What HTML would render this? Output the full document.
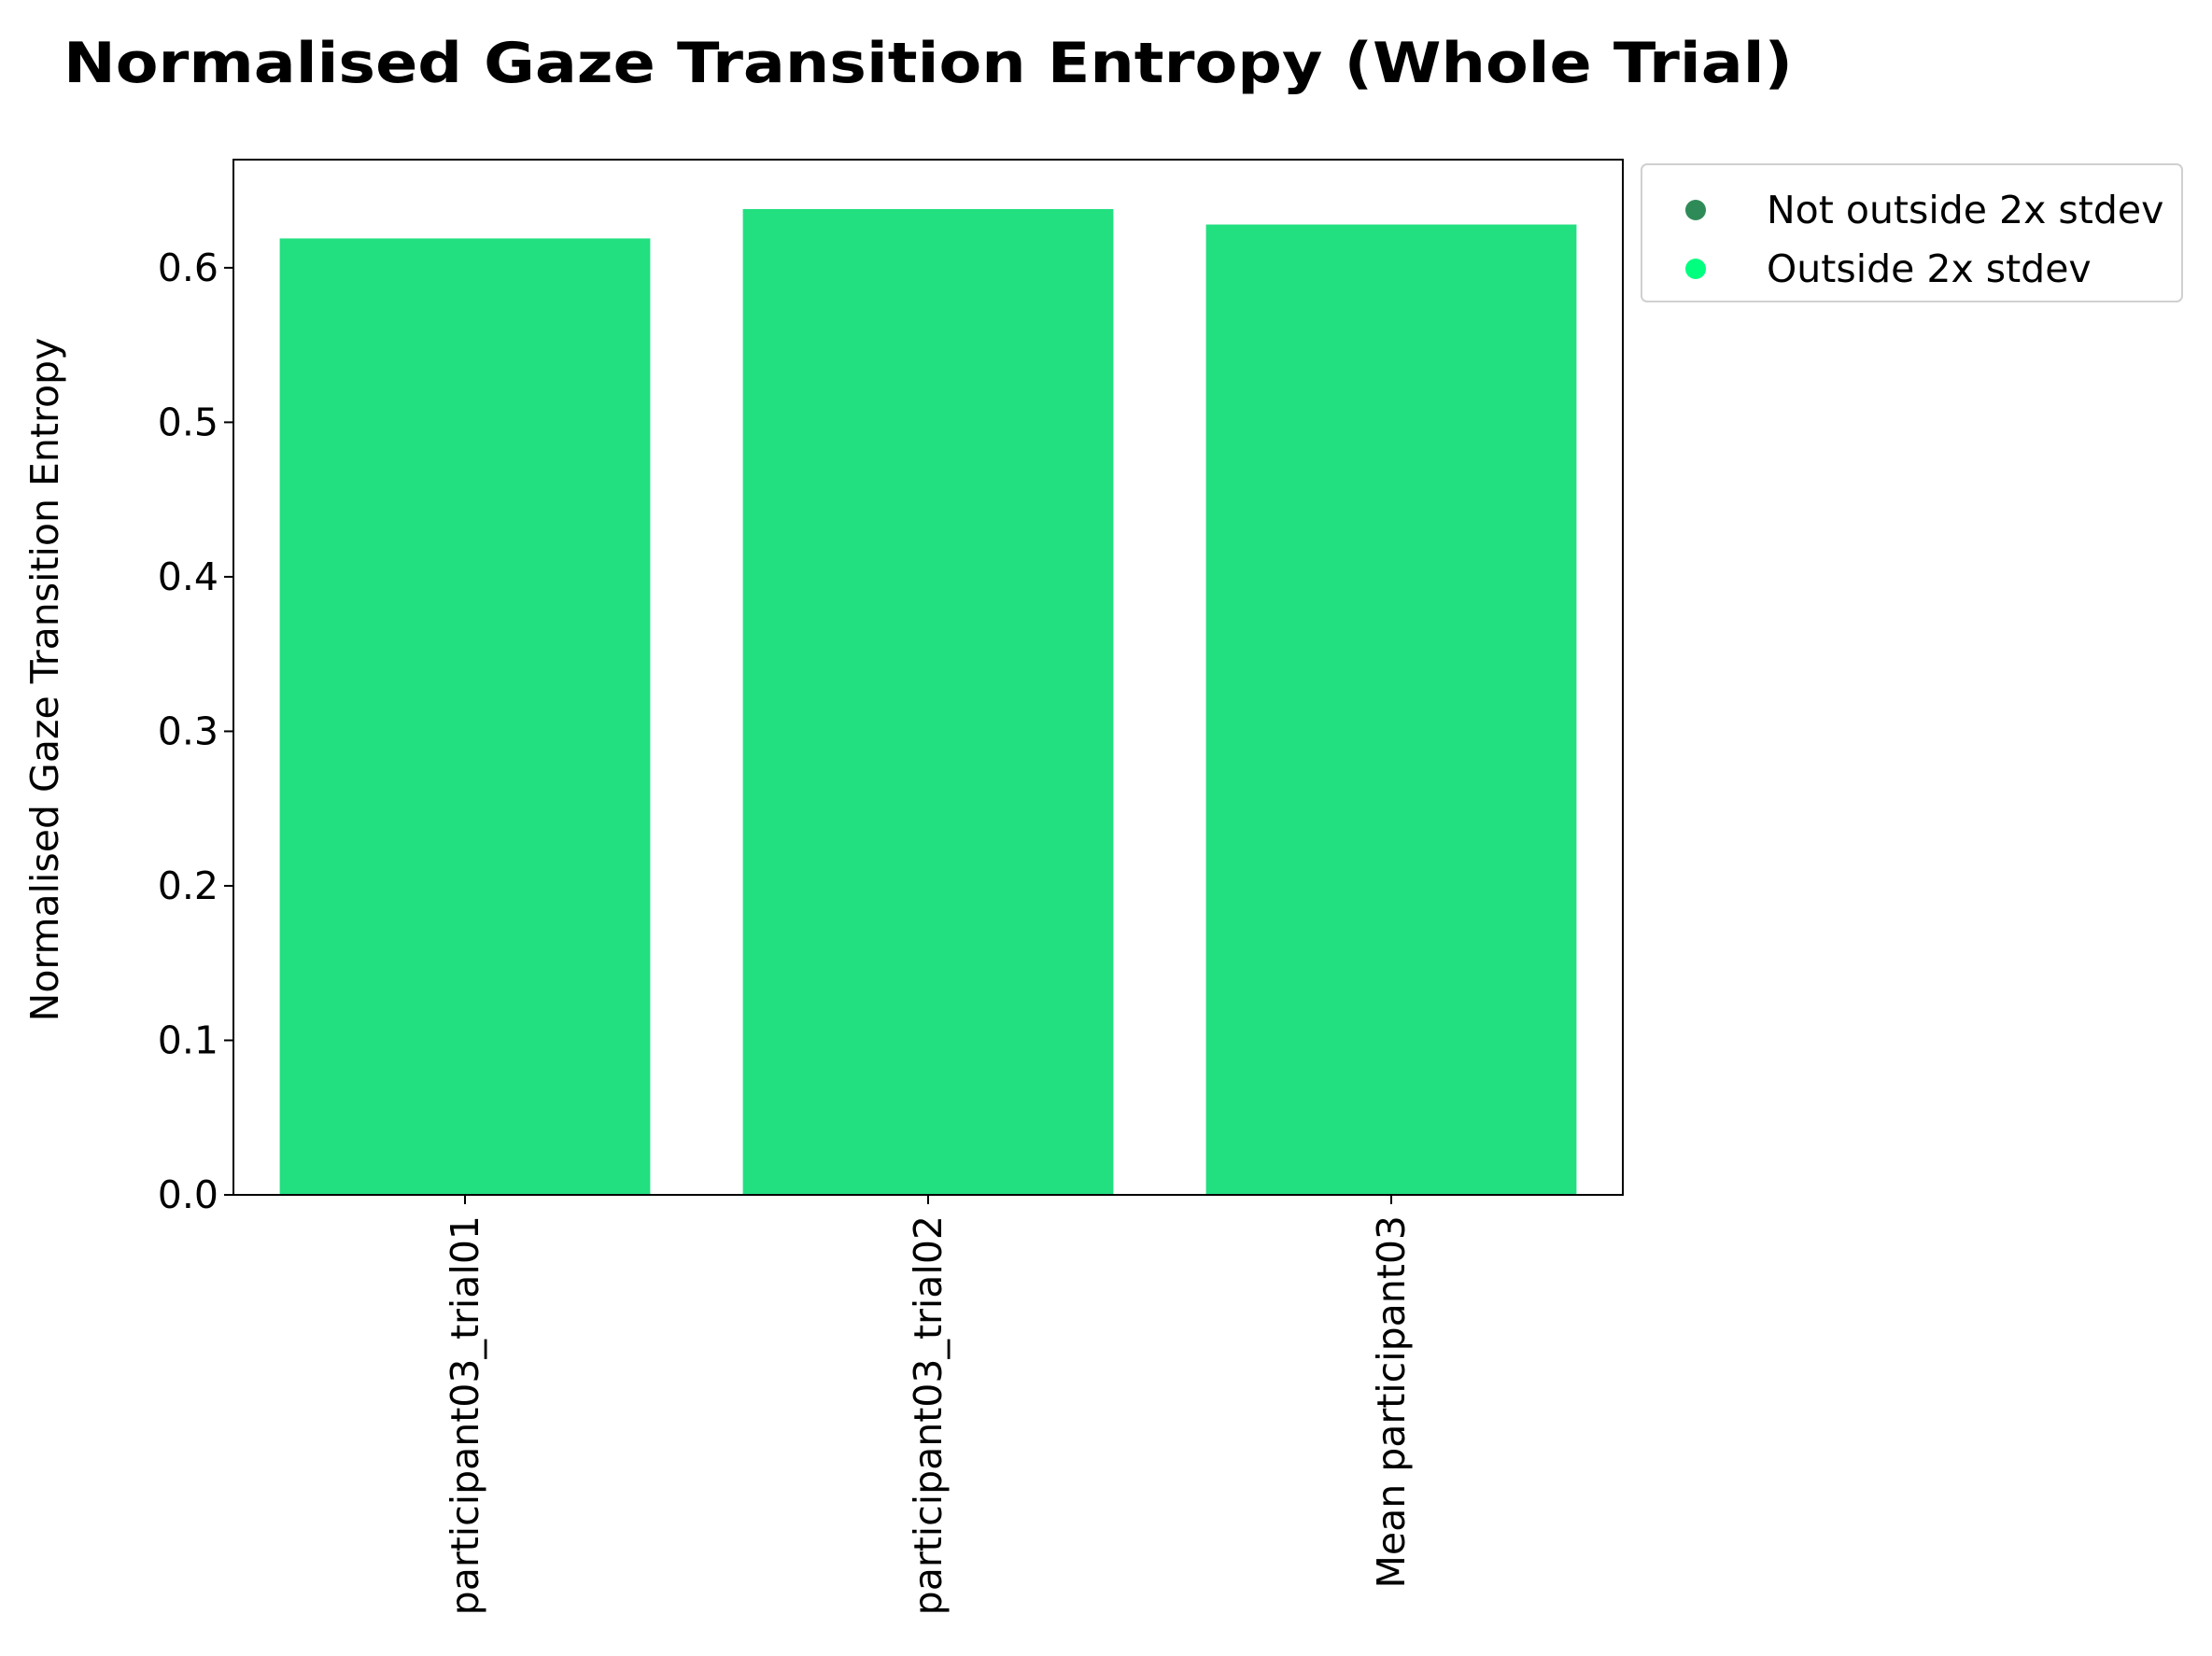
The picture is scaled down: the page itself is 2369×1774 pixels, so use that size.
<!DOCTYPE html>
<html><head><meta charset="utf-8"><style>
html,body{margin:0;padding:0;background:#fff}
svg{display:block;font-family:"DejaVu Sans","Liberation Sans",sans-serif}
</style></head><body>
<svg id="chart" width="2369" height="1774" viewBox="0 0 2369 1774">
<text x="68" y="88" font-size="60" font-weight="bold" textLength="1852" lengthAdjust="spacingAndGlyphs">Normalised Gaze Transition Entropy (Whole Trial)</text>
<g id="plot"></g>
<text transform="translate(62,728) rotate(-90)" text-anchor="middle" font-size="41">Normalised Gaze Transition Entropy</text>
<g>
<rect x="1758" y="176" width="579" height="147" rx="6" fill="#fff" stroke="#d0d0d0" stroke-width="2"/>
<g>
<circle cx="1816" cy="225" r="11" fill="#2e8b57"/>
<text x="1892" y="239" font-size="41">Not outside 2x stdev</text></g>
<g>
<circle cx="1816" cy="288" r="11" fill="#00ff7f"/>
<text x="1892" y="302" font-size="41">Outside 2x stdev</text></g>
</g>
</svg>
<script>
const categories = ["participant03_trial01","participant03_trial02","Mean participant03"];
const values = [0.619, 0.638, 0.628];
const yTicks = [0.0,0.1,0.2,0.3,0.4,0.5,0.6];
const yTickLabels = ["0.0","0.1","0.2","0.3","0.4","0.5","0.6"];
const L=250, R=1738, T=171, B=1280, YMAX=0.67;
const NS="http://www.w3.org/2000/svg";
const plot=document.getElementById('plot');
function xs(i){return L+(i+0.5)*(R-L)/categories.length;}
function ys(v){return B-(v/YMAX)*(B-T);}
function mk(tag,attrs){const e=document.createElementNS(NS,tag);for(const k in attrs)e.setAttribute(k,attrs[k]);plot.appendChild(e);return e;}
const bw=0.8*(R-L)/categories.length;
values.forEach((v,i)=>{
  const r=mk('rect',{x:xs(i)-bw/2,y:ys(v),width:bw,height:B-ys(v),fill:'#22df80'});
  
  
  const t=mk('line',{x1:xs(i),x2:xs(i),y1:B,y2:B+10,stroke:'#000','stroke-width':2});
  
  
  const lb=mk('text',{transform:`translate(${xs(i)+14},1302) rotate(-90)`,'text-anchor':'end','font-size':41});
  lb.textContent=categories[i];
  
  
});
yTicks.forEach((v,i)=>{
  const t=mk('line',{x1:L-10,x2:L,y1:ys(v),y2:ys(v),stroke:'#000','stroke-width':2});
  
  
  const lb=mk('text',{x:L-16,y:ys(v)+14,'text-anchor':'end','font-size':41});
  lb.textContent=yTickLabels[i];
  
  
});
const frame=mk('rect',{x:L,y:T,width:R-L,height:B-T,fill:'none',stroke:'#000','stroke-width':2});


</script>
</body></html>
